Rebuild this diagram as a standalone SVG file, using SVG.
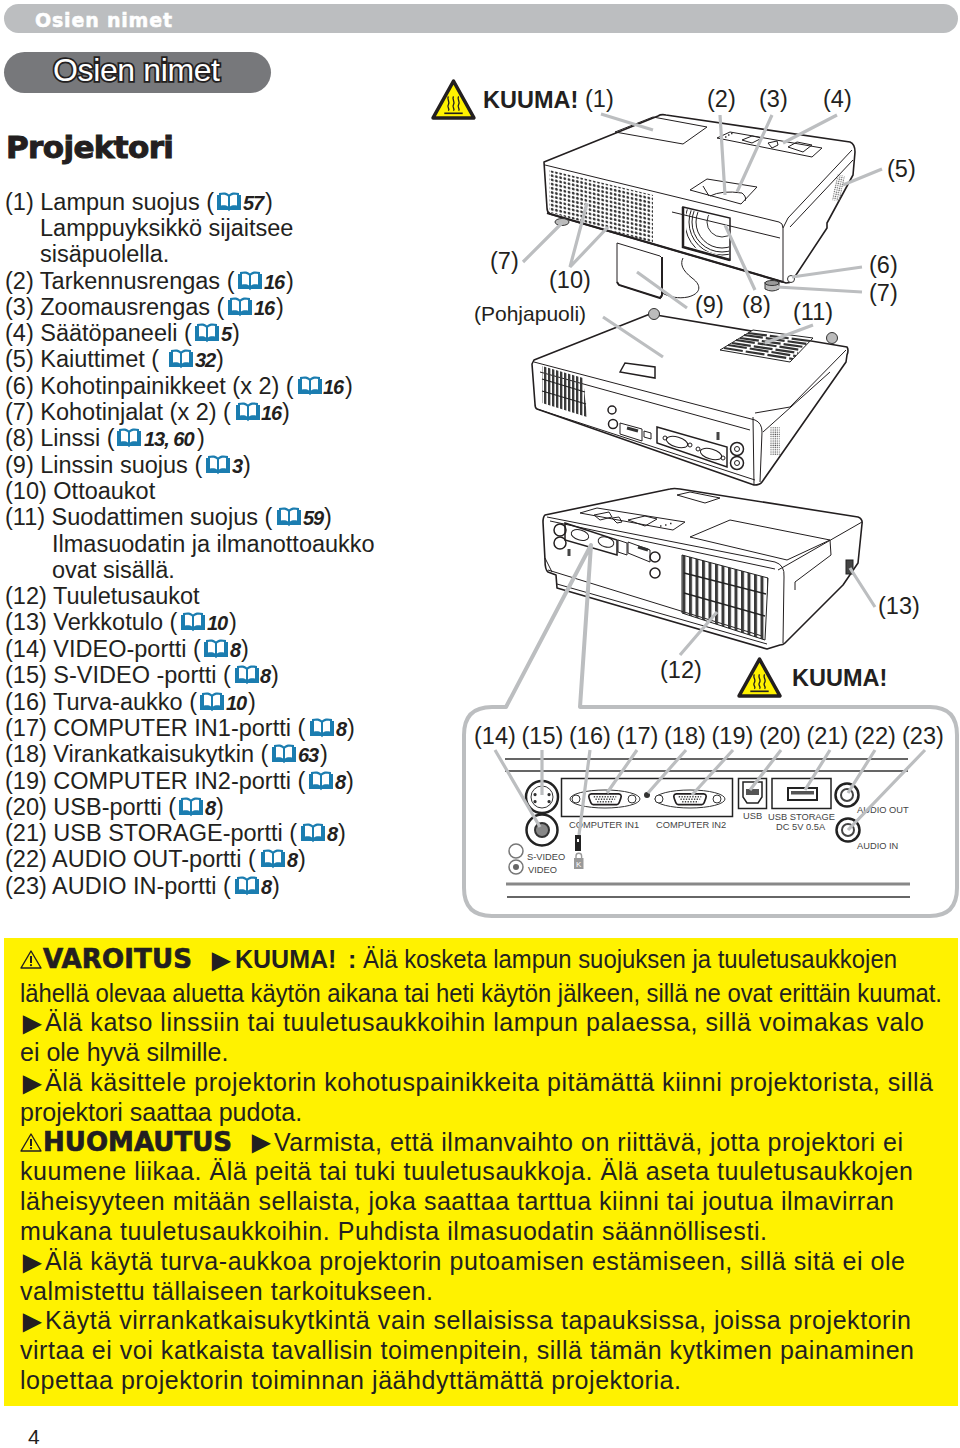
<svg xmlns="http://www.w3.org/2000/svg" width="960" height="1448" viewBox="0 0 960 1448">
<style>
text{font-family:"Liberation Sans",Arial,sans-serif;fill:#231f20}
.l{font-size:23.5px}
.n{font-size:20px;font-weight:bold;font-style:italic;letter-spacing:-1px}
.lb{font-size:23.5px}
.k{font-size:23.5px;font-weight:bold}
.w{font-size:25px}
.a{font-size:32px}
.wb{font-family:"DejaVu Sans","Liberation Sans",sans-serif;font-size:26px;font-weight:bold;stroke:#231f20;stroke-width:.7}
.s{font-size:9.300px;fill:#444}
.ld{fill:none;stroke:#bcbec0;stroke-width:3.2}
.fr{fill:none;stroke:#bcbec0;stroke-width:4;stroke-linejoin:round}
.o{fill:#fff;stroke:#231f20;stroke-width:1.6;stroke-linejoin:round}
.t{fill:none;stroke:#231f20;stroke-width:1}
.tk{fill:none;stroke:#231f20;stroke-width:1.5}
.gy{fill:#fff;stroke:#333;stroke-width:1}
</style>
<defs>
<symbol id="book" viewBox="0 0 26 20" overflow="visible">
<path d="M1 3L1 18L12 18C12.500 19.500 13.500 19.500 14 18L25 18L25 3L23 3L23 1C19 0 15 0 13 2.500C11 0 7 0 3 1L3 3Z" fill="#1b7db0"/>
<path d="M5 3C8 2.500 10.500 3 12 4.500L12 14.500C10.500 13.200 8 13 5 13.500ZM21 3C18 2.500 15.500 3 14 4.500L14 14.500C15.500 13.200 18 13 21 13.500Z" fill="#fff"/>
</symbol>
<symbol id="hot" viewBox="0 0 44 40" overflow="visible">
<path d="M22 2L42 38L2 38Z" fill="#fff200" stroke="#231f20" stroke-width="3.400" stroke-linejoin="round"/>
<path d="M17 17c-2 3 2 5 0 8s2 4 0 6M22 17c-2 3 2 5 0 8s2 4 0 6M27 17c-2 3 2 5 0 8s2 4 0 6" fill="none" stroke="#231f20" stroke-width="1.300"/>
<path d="M13 33.500H31" stroke="#231f20" stroke-width="1.600"/>
</symbol>
<symbol id="warn" viewBox="0 0 22 20" overflow="visible">
<path d="M11 2L21 19L1 19Z" fill="none" stroke="#231f20" stroke-width="1.400" stroke-linejoin="round"/>
<path d="M11 7L11 14" stroke="#231f20" stroke-width="2"/><circle cx="11" cy="16.200" r="1.100" fill="#231f20"/>
</symbol>
<symbol id="vga" viewBox="0 0 64 22" overflow="visible">
<path d="M8 2L56 2C60 2 62 5 60 10L57 18C56 20 55 21 53 21L11 21C9 21 8 20 7 18L4 10C2 5 4 2 8 2Z" fill="#fff" stroke="#231f20" stroke-width="3"/>
<path d="M12 7H52M15 11.500H50M18 16H47" stroke="#444" stroke-width="2.800" stroke-dasharray="2.400 2.400" fill="none"/>
</symbol>
<pattern id="dots" width="4.200" height="4.200" patternUnits="userSpaceOnUse" patternTransform="skewY(13)"><circle cx="2" cy="2" r="1.400" fill="#333"/></pattern>
<pattern id="slats" width="4" height="8" patternUnits="userSpaceOnUse" patternTransform="skewY(16)"><rect width="2.400" height="8" fill="#3a3a3a"/></pattern>
<pattern id="slats3" width="6.500" height="8" patternUnits="userSpaceOnUse" patternTransform="skewY(15)"><rect width="3" height="8" fill="#3a3a3a"/></pattern>
<pattern id="fine" width="2.200" height="2.200" patternUnits="userSpaceOnUse"><circle cx="1" cy="1" r=".7" fill="#555"/></pattern>
<clipPath id="lensclip"><path d="M686 209L729 220L729 258L686 245Z"/></clipPath>
</defs>
<rect width="960" height="1448" fill="#fff"/>

<g id="header">
<rect x="4" y="4" width="954" height="29" rx="14.500" fill="#bcbec0"/>
<text x="35" y="27" font-size="19" font-weight="bold" stroke="#fff" stroke-width=".5" style="font-family:'DejaVu Sans',sans-serif;fill:#fff" textLength="137">Osien nimet</text>
<rect x="4" y="52" width="267" height="41" rx="20.500" fill="#77787b"/>
<text x="53" y="81" font-size="32" stroke="#231f20" stroke-width="3.600" paint-order="stroke" style="fill:#fff" textLength="167">Osien nimet</text>
<text x="6" y="158" font-size="31" font-weight="bold" stroke="#231f20" stroke-width="1" style="font-family:'DejaVu Sans',sans-serif" textLength="168">Projektori</text>
</g>

<g id="parts-list">
<text class="l" x="5" y="210">(1) Lampun suojus (<tspan class="n" x="243">57</tspan><tspan x="265">)</tspan></text>
<text class="l" x="40" y="236">Lamppuyksikkö sijaitsee</text>
<text class="l" x="40" y="262">sisäpuolella.</text>
<text class="l" x="5" y="289">(2) Tarkennusrengas (<tspan class="n" x="264">16</tspan><tspan x="286">)</tspan></text>
<text class="l" x="5" y="315">(3) Zoomausrengas (<tspan class="n" x="254">16</tspan><tspan x="276">)</tspan></text>
<text class="l" x="5" y="341">(4) Säätöpaneeli (<tspan class="n" x="221">5</tspan><tspan x="232">)</tspan></text>
<text class="l" x="5" y="367">(5) Kaiuttimet  (<tspan class="n" x="195">32</tspan><tspan x="216">)</tspan></text>
<text class="l" x="5" y="394">(6) Kohotinpainikkeet (x 2) (<tspan class="n" x="323">16</tspan><tspan x="345">)</tspan></text>
<text class="l" x="5" y="420">(7) Kohotinjalat (x 2) (<tspan class="n" x="261">16</tspan><tspan x="282">)</tspan></text>
<text class="l" x="5" y="446">(8) Linssi (<tspan class="n" x="144">13, 60</tspan><tspan x="197">)</tspan></text>
<text class="l" x="5" y="473">(9) Linssin suojus (<tspan class="n" x="232">3</tspan><tspan x="243">)</tspan></text>
<text class="l" x="5" y="499">(10) Ottoaukot</text>
<text class="l" x="5" y="525">(11) Suodattimen suojus (<tspan class="n" x="303">59</tspan><tspan x="324">)</tspan></text>
<text class="l" x="52" y="552">Ilmasuodatin ja ilmanottoaukko</text>
<text class="l" x="52" y="578">ovat sisällä.</text>
<text class="l" x="5" y="604">(12) Tuuletusaukot</text>
<text class="l" x="5" y="630">(13) Verkkotulo (<tspan class="n" x="207">10</tspan><tspan x="229">)</tspan></text>
<text class="l" x="5" y="657">(14) VIDEO-portti (<tspan class="n" x="230">8</tspan><tspan x="241">)</tspan></text>
<text class="l" x="5" y="683">(15) S-VIDEO -portti (<tspan class="n" x="260">8</tspan><tspan x="271">)</tspan></text>
<text class="l" x="5" y="710">(16) Turva-aukko (<tspan class="n" x="226">10</tspan><tspan x="248">)</tspan></text>
<text class="l" x="5" y="736">(17) COMPUTER IN1-portti (<tspan class="n" x="336">8</tspan><tspan x="347">)</tspan></text>
<text class="l" x="5" y="762">(18) Virankatkaisukytkin (<tspan class="n" x="298">63</tspan><tspan x="320">)</tspan></text>
<text class="l" x="5" y="789">(19) COMPUTER IN2-portti (<tspan class="n" x="335">8</tspan><tspan x="346">)</tspan></text>
<text class="l" x="5" y="815">(20) USB-portti (<tspan class="n" x="205">8</tspan><tspan x="216">)</tspan></text>
<text class="l" x="5" y="841">(21) USB STORAGE-portti (<tspan class="n" x="327">8</tspan><tspan x="338">)</tspan></text>
<text class="l" x="5" y="867">(22) AUDIO OUT-portti (<tspan class="n" x="287">8</tspan><tspan x="298">)</tspan></text>
<text class="l" x="5" y="894">(23) AUDIO IN-portti (<tspan class="n" x="261">8</tspan><tspan x="272">)</tspan></text>
<use href="#book" x="216" y="192" width="26" height="20"/>
<use href="#book" x="237" y="271" width="26" height="20"/>
<use href="#book" x="227" y="297" width="26" height="20"/>
<use href="#book" x="194" y="323" width="26" height="20"/>
<use href="#book" x="168" y="349" width="26" height="20"/>
<use href="#book" x="297" y="376" width="26" height="20"/>
<use href="#book" x="235" y="402" width="26" height="20"/>
<use href="#book" x="116" y="428" width="26" height="20"/>
<use href="#book" x="205" y="455" width="26" height="20"/>
<use href="#book" x="276" y="507" width="26" height="20"/>
<use href="#book" x="180" y="612" width="26" height="20"/>
<use href="#book" x="203" y="639" width="26" height="20"/>
<use href="#book" x="234" y="665" width="26" height="20"/>
<use href="#book" x="199" y="692" width="26" height="20"/>
<use href="#book" x="309" y="718" width="26" height="20"/>
<use href="#book" x="271" y="744" width="26" height="20"/>
<use href="#book" x="308" y="771" width="26" height="20"/>
<use href="#book" x="178" y="797" width="26" height="20"/>
<use href="#book" x="300" y="823" width="26" height="20"/>
<use href="#book" x="260" y="849" width="26" height="20"/>
<use href="#book" x="234" y="876" width="26" height="20"/>
</g>

<g id="projector-top">
<path class="o" d="M544 162L658 116Q661 114 666 115L850 142Q855 144 855 152L853 175L827 223L827 228L796 275L792 281Q790 283 786 283L783 282L550 214Q547 212 547 208Z"/>
<path class="t" d="M545 165L779 222Q783 223 783 228L783 282M783 228L788 218L852 150M790 227L853 160"/>
<path class="t" d="M672 212L780 238"/>
<path d="M547 213L783 282" stroke="#231f20" stroke-width="2.200"/>
<path d="M549 170L653 195L653 243L549 212Z" fill="url(#dots)"/>
<path class="t" d="M615 132L653 117L707 127L683 144Z"/>
<path class="t" d="M717 138L730 132L822 148L812 157Z"/>
<path class="t" d="M742 140L752 136L762 138L752 143ZM768 143L777 141L778 145L772 148ZM788 147L797 142L812 145L803 152Z"/>
<path d="M725 137h1.500M728 135h1.500M731 133.500h1.500" stroke="#333" stroke-width="1.500"/>
<rect x="834" y="175" width="8" height="26" fill="url(#fine)" transform="rotate(12 838 190)"/>
<path class="t" d="M690 190L707 179L757 187L741 204Z"/>
<path class="t" d="M710 196Q722 190 742 193Q747 197 745 201M703 186L709 196"/>
<path class="tk" d="M683 207L730 218L730 260L683 247Z" fill="#fff"/>
<path d="M683 207L683 247L730 260" fill="none" stroke="#231f20" stroke-width="2.500"/>
<g clip-path="url(#lensclip)">
<circle cx="722" cy="222" r="15" fill="none" stroke="#333"/><circle cx="722" cy="222" r="26" class="t"/><circle cx="722" cy="222" r="30" class="t"/><circle cx="722" cy="222" r="33" class="t"/><circle cx="722" cy="222" r="37" class="t"/>
</g>
<ellipse cx="562" cy="222" rx="7" ry="3.500" fill="#bbb" stroke="#333"/>
<path d="M765 282v7q7 4 14 0v-7" fill="#bbb" stroke="#333"/><ellipse cx="772" cy="283" rx="7" ry="2.500" fill="#999" stroke="#333"/>
<circle cx="791" cy="279" r="3.500" class="gy"/>
<path class="t" d="M617 243L660 256Q662 257 662 260L662 296Q662 298 660 298L619 285Q617 284 617 282Z"/>
<path d="M617 282L619 285L660 298L662 295L662 257" fill="none" stroke="#231f20" stroke-width="2"/>
<path class="t" d="M683 258C680 264 682 270 692 278C703 286 700 294 688 297C678 299 670 297 662 293"/>
</g>

<g id="projector-bottom">
<path class="o" d="M534 360L650 314L847 347Q849 350 847 355L846 362L762 482Q760 485 754 485L537 409Q535 408 535 404L532 364Z"/>
<path class="t" d="M534 362L755 420Q762 423 762 432L760 482M753 417L754 485M540 372L750 430M537 409L755 480"/>
<path class="t" d="M790 407L846 350M755 413L790 407M763 432L830 372"/>
<path d="M542 366L583 378L587 417L542 403Z" fill="url(#slats)"/>
<path d="M542 379L585 392M542 391L586 404" stroke="#222" stroke-width="1.200"/>
<path d="M720 350L753 330L813 338L790 362Z" fill="#fff" stroke="#222"/>
<path d="M724 348L793 359M728 345L796 356M732 343L798 353M736 340L801 350M740 338L804 347M744 335L807 344M748 333L810 341" fill="none" stroke="#333" stroke-width="2.200" stroke-dasharray="19 3"/>
<path class="tk" d="M620 372L625 363L655 367L655 378Z"/>
<circle cx="654" cy="314" r="5.500" fill="#bbb" stroke="#333"/>
<circle cx="832" cy="338" r="5.500" fill="#bbb" stroke="#333"/>
<circle cx="612" cy="410" r="4" class="tk"/><circle cx="613" cy="424" r="4.500" class="tk"/>
<path class="t" d="M620 423L642 429L642 441L620 434Z"/>
<path d="M627 428L638 431" stroke="#333" stroke-width="3"/>
<path class="t" d="M644 431L651 433L651 439L644 437Z"/>
<path class="tk" d="M657 427L727 447L727 467L657 443Z"/>
<ellipse cx="677" cy="442" rx="11" ry="5" class="t" transform="rotate(16 677 442)"/>
<ellipse cx="711" cy="454" rx="11" ry="5" class="t" transform="rotate(16 711 454)"/>
<circle cx="665" cy="438" r="2" class="t"/><circle cx="690" cy="445" r="2" class="t"/><circle cx="698" cy="449" r="2" class="t"/><circle cx="723" cy="458" r="2" class="t"/>
<rect x="716.500" y="432" width="3" height="8" fill="#444"/>
<circle cx="737" cy="449" r="6.500" class="tk"/><circle cx="737" cy="449" r="2.500" class="t"/>
<circle cx="737" cy="463" r="6.500" class="tk"/><circle cx="737" cy="463" r="2.500" class="t"/>
<rect x="770" y="427" width="10" height="28" fill="url(#fine)"/>
</g>

<g id="projector-rear">
<path class="o" d="M545 515L670 489Q674 488 680 489L858 517Q863 519 862 524L858 563L843 585L785 643Q783 645 780 645L767 649L557 588L556 575L548 572Q545 570 545 560L543 522Q543 517 545 515Z"/>
<path class="t" d="M547 517L775 562Q785 565 784 577L783 643M778 570L787 565L862 522"/>
<path class="t" d="M550 521L775 569M548 570L762 636M557 584L767 644M545 558L552 572"/>
<path class="t" d="M580 513L597 508L685 522L673 530Z"/>
<path class="t" d="M594 515L609 512L612 517L600 520ZM612 518L619 517L622 522L617 523ZM628 520L645 516L657 519L645 526Z"/>
<path d="M660 526h1.500M665 525h1.500M670 523.500h1.500" stroke="#333" stroke-width="1.500"/>
<path class="t" d="M677 495L690 492L720 498L705 503Z"/>
<path class="t" d="M690 537L730 520L830 540L787 560Z"/>
<path d="M682 555L768 578L765 640L682 613Z" fill="url(#slats3)" stroke="#222"/>
<path d="M684 573L766 594M684 593L765 616" stroke="#222" stroke-width="1.400"/>
<path class="t" d="M830 540L831 555L795 582M795 582L795 590"/>
<circle cx="560" cy="530" r="6" class="tk"/><circle cx="560" cy="543" r="6" class="tk"/>
<path class="tk" d="M565 523L617 540L617 555L565 540Z"/>
<ellipse cx="580" cy="535" rx="9" ry="5" class="t" transform="rotate(16 580 535)"/>
<ellipse cx="606" cy="542" rx="8" ry="5" class="t" transform="rotate(16 606 542)"/>
<path class="t" d="M618 540L627 543L627 555L618 552ZM628 542L650 550L650 562L628 553Z"/>
<path d="M638 547L648 550" stroke="#333" stroke-width="3"/>
<circle cx="655" cy="557" r="5" class="tk"/><circle cx="655" cy="573" r="5" class="tk"/>
<rect x="567.500" y="549" width="3" height="7" fill="#444"/>
<rect x="846" y="560" width="7" height="14" fill="#444" stroke="#222"/>
</g>

<g id="connectors">
<path class="ld" d="M601 114L653 130M720 115L725 195M772 115L737 192M837 115L783 143M882 169L843 185M862 267L792 277M862 292L777 287M523 262L562 223M587 203L570 267L608 227M687 308L637 272M755 290L725 225M813 325L765 343M603 317L663 357"/>
<path class="ld" d="M680 655L717 612M875 607L850 568"/>
<path class="fr" d="M591 545L580 707L930 707Q957 707 957 735L957 888Q957 916 930 916L492 916Q464 916 464 888L464 735Q464 707 492 707L506 707L591 545Z"/>
</g>

<g id="port-panel">
<path d="M505 759H908M505 771H908" stroke="#333" stroke-width="1.400"/>
<path d="M506 884H910" stroke="#888" stroke-width="3"/>
<path d="M507 897H910" stroke="#333" stroke-width="1.400"/>
<circle cx="542" cy="797" r="16" fill="none" stroke="#222" stroke-width="2.500"/>
<circle cx="542" cy="797" r="11" fill="none" stroke="#333"/>
<path d="M535 793a1.600 1.600 0 1 0 .1 0M549 793a1.600 1.600 0 1 0 .1 0M535 800a1.600 1.600 0 1 0 .1 0M549 800a1.600 1.600 0 1 0 .1 0" fill="#333"/>
<circle cx="542" cy="830" r="15.500" fill="none" stroke="#222" stroke-width="2.500"/>
<circle cx="542" cy="830" r="7" fill="#888" stroke="#333" stroke-width="2"/>
<rect x="561.500" y="778.500" width="171" height="38" fill="none" stroke="#222" stroke-width="1.500"/>
<ellipse cx="605" cy="799" rx="35" ry="9" fill="none" stroke="#333"/>
<ellipse cx="690" cy="799" rx="35" ry="9" fill="none" stroke="#333"/>
<use href="#vga" x="587" y="789" width="36" height="20" preserveAspectRatio="none"/>
<use href="#vga" x="672" y="789" width="36" height="20" preserveAspectRatio="none"/>
<circle cx="576" cy="799" r="4" fill="#fff" stroke="#333"/><circle cx="632" cy="799" r="4" fill="#fff" stroke="#333"/>
<circle cx="659" cy="799" r="4" fill="#fff" stroke="#333"/><circle cx="717" cy="799" r="4" fill="#fff" stroke="#333"/>
<circle cx="647" cy="795" r="3" fill="#333"/>
<rect x="738.500" y="778.500" width="28" height="30" fill="none" stroke="#222" stroke-width="1.500"/>
<path d="M743 782H762V797L758 803H747L743 797Z" fill="#fff" stroke="#222" stroke-width="1.500"/>
<rect x="746" y="789" width="13" height="6" fill="#555"/>
<rect x="772" y="778.500" width="59" height="30" fill="none" stroke="#222" stroke-width="1.500"/>
<rect x="788" y="788" width="29" height="12" fill="#fff" stroke="#222" stroke-width="2"/>
<rect x="791" y="791" width="23" height="3.500" fill="#555"/>
<circle cx="847" cy="795" r="11.500" fill="none" stroke="#222" stroke-width="2.500"/><circle cx="847" cy="795" r="6" fill="none" stroke="#444" stroke-width="2"/>
<circle cx="848" cy="830" r="11.500" fill="none" stroke="#222" stroke-width="2.500"/><circle cx="848" cy="830" r="6" fill="none" stroke="#444" stroke-width="2"/>
<rect x="575" y="835" width="6" height="16" fill="#222"/><rect x="577" y="839" width="2" height="3" fill="#fff"/>
<path d="M576 858v-2a2.800 2.800 0 0 1 5.600 0v2" fill="none" stroke="#999" stroke-width="1.400"/><rect x="574" y="858" width="9.500" height="11" fill="#999"/>
<text x="576" y="867" font-size="8" style="fill:#fff">K</text>
<circle cx="516" cy="851" r="7" fill="none" stroke="#777" stroke-width="1.500"/><circle cx="516" cy="867" r="7" fill="none" stroke="#777" stroke-width="1.500"/><circle cx="516" cy="867" r="3" fill="#666"/>
<text class="s" x="569" y="828">COMPUTER IN1</text>
<text class="s" x="656" y="828">COMPUTER IN2</text>
<text class="s" x="743" y="819">USB</text>
<text class="s" x="768" y="820">USB STORAGE</text>
<text class="s" x="776" y="830">DC 5V 0.5A</text>
<text class="s" x="857" y="813">AUDIO OUT</text>
<text class="s" x="857" y="849">AUDIO IN</text>
<text class="s" x="527" y="860">S-VIDEO</text>
<text class="s" x="528" y="873">VIDEO</text>
<path class="ld" d="M495 750L540 827M542 750L542 795M590 750L579 835M637 750L607 793M686 750L648 793M733 750L692 795M781 750L750 790M830 750L805 790M875 750L848 793M925 750L848 830"/>
</g>

<g id="labels">
<use href="#hot" x="431" y="79" width="45" height="41"/>
<use href="#hot" x="737" y="657" width="45" height="41"/>
<text class="k" x="483" y="108">KUUMA!</text>
<text class="k" x="792" y="686">KUUMA!</text>
<text class="lb" x="585" y="107">(1)</text>
<text class="lb" x="707" y="107">(2)</text>
<text class="lb" x="759" y="107">(3)</text>
<text class="lb" x="823" y="107">(4)</text>
<text class="lb" x="887" y="177">(5)</text>
<text class="lb" x="869" y="273">(6)</text>
<text class="lb" x="869" y="301">(7)</text>
<text class="lb" x="490" y="269">(7)</text>
<text class="lb" x="549" y="288">(10)</text>
<text class="lb" x="695" y="313">(9)</text>
<text class="lb" x="742" y="313">(8)</text>
<text class="lb" x="793" y="320">(11)</text>
<text x="474" y="321" font-size="21">(Pohjapuoli)</text>
<text class="lb" x="660" y="678">(12)</text>
<text class="lb" x="878" y="614">(13)</text>
<text class="lb" x="474" y="744">(14)</text>
<text class="lb" x="521.500" y="744">(15)</text>
<text class="lb" x="569" y="744">(16)</text>
<text class="lb" x="616.500" y="744">(17)</text>
<text class="lb" x="664" y="744">(18)</text>
<text class="lb" x="711.500" y="744">(19)</text>
<text class="lb" x="759" y="744">(20)</text>
<text class="lb" x="806.500" y="744">(21)</text>
<text class="lb" x="854" y="744">(22)</text>
<text class="lb" x="902" y="744">(23)</text>
</g>

<g id="warning">
<rect x="4" y="938" width="954" height="468" fill="#fff200"/>
<use href="#warn" x="20" y="949" width="22" height="20"/>
<text class="wb" x="43" y="968" textLength="149">VAROITUS</text>
<text class="a" x="205.500" y="971">►</text>
<text x="235" y="968" font-size="25" font-weight="bold">KUUMA!</text>
<text x="348" y="968" font-size="25" font-weight="bold">:</text>
<text class="w" x="363" y="968" textLength="534" lengthAdjust="spacingAndGlyphs">Älä kosketa lampun suojuksen ja tuuletusaukkojen</text>
<text class="w" x="20" y="1002" textLength="922" lengthAdjust="spacingAndGlyphs">lähellä olevaa aluetta käytön aikana tai heti käytön jälkeen, sillä ne ovat erittäin kuumat.</text>
<text class="a" x="16.500" y="1034">►</text>
<text class="w" x="45" y="1031" textLength="879">Älä katso linssiin tai tuuletusaukkoihin lampun palaessa, sillä voimakas valo</text>
<text class="w" x="20" y="1061">ei ole hyvä silmille.</text>
<text class="a" x="16.500" y="1094">►</text>
<text class="w" x="45" y="1091" textLength="888">Älä käsittele projektorin kohotuspainikkeita pitämättä kiinni projektorista, sillä</text>
<text class="w" x="20" y="1121">projektori saattaa pudota.</text>
<use href="#warn" x="20" y="1132" width="22" height="20"/>
<text class="wb" x="43" y="1151" textLength="189">HUOMAUTUS</text>
<text class="a" x="245.500" y="1153">►</text>
<text class="w" x="274" y="1151" textLength="629">Varmista, että ilmanvaihto on riittävä, jotta projektori ei</text>
<text class="w" x="20" y="1180" textLength="893">kuumene liikaa. Älä peitä tai tuki tuuletusaukkoja. Älä aseta tuuletusaukkojen</text>
<text class="w" x="20" y="1210" textLength="874">läheisyyteen mitään sellaista, joka saattaa tarttua kiinni tai joutua ilmavirran</text>
<text class="w" x="20" y="1240" textLength="747">mukana tuuletusaukkoihin. Puhdista ilmasuodatin säännöllisesti.</text>
<text class="a" x="16.500" y="1273">►</text>
<text class="w" x="45" y="1270" textLength="860">Älä käytä turva-aukkoa projektorin putoamisen estämiseen, sillä sitä ei ole</text>
<text class="w" x="20" y="1300" textLength="413">valmistettu tällaiseen tarkoitukseen.</text>
<text class="a" x="16.500" y="1332">►</text>
<text class="w" x="45" y="1329" textLength="866">Käytä virrankatkaisukytkintä vain sellaisissa tapauksissa, joissa projektorin</text>
<text class="w" x="20" y="1359" textLength="894">virtaa ei voi katkaista tavallisin toimenpitein, sillä tämän kytkimen painaminen</text>
<text class="w" x="20" y="1389" textLength="661">lopettaa projektorin toiminnan jäähdyttämättä projektoria.</text>
</g>
<text id="page-number" x="28" y="1443.500" font-size="21">4</text>
</svg>
